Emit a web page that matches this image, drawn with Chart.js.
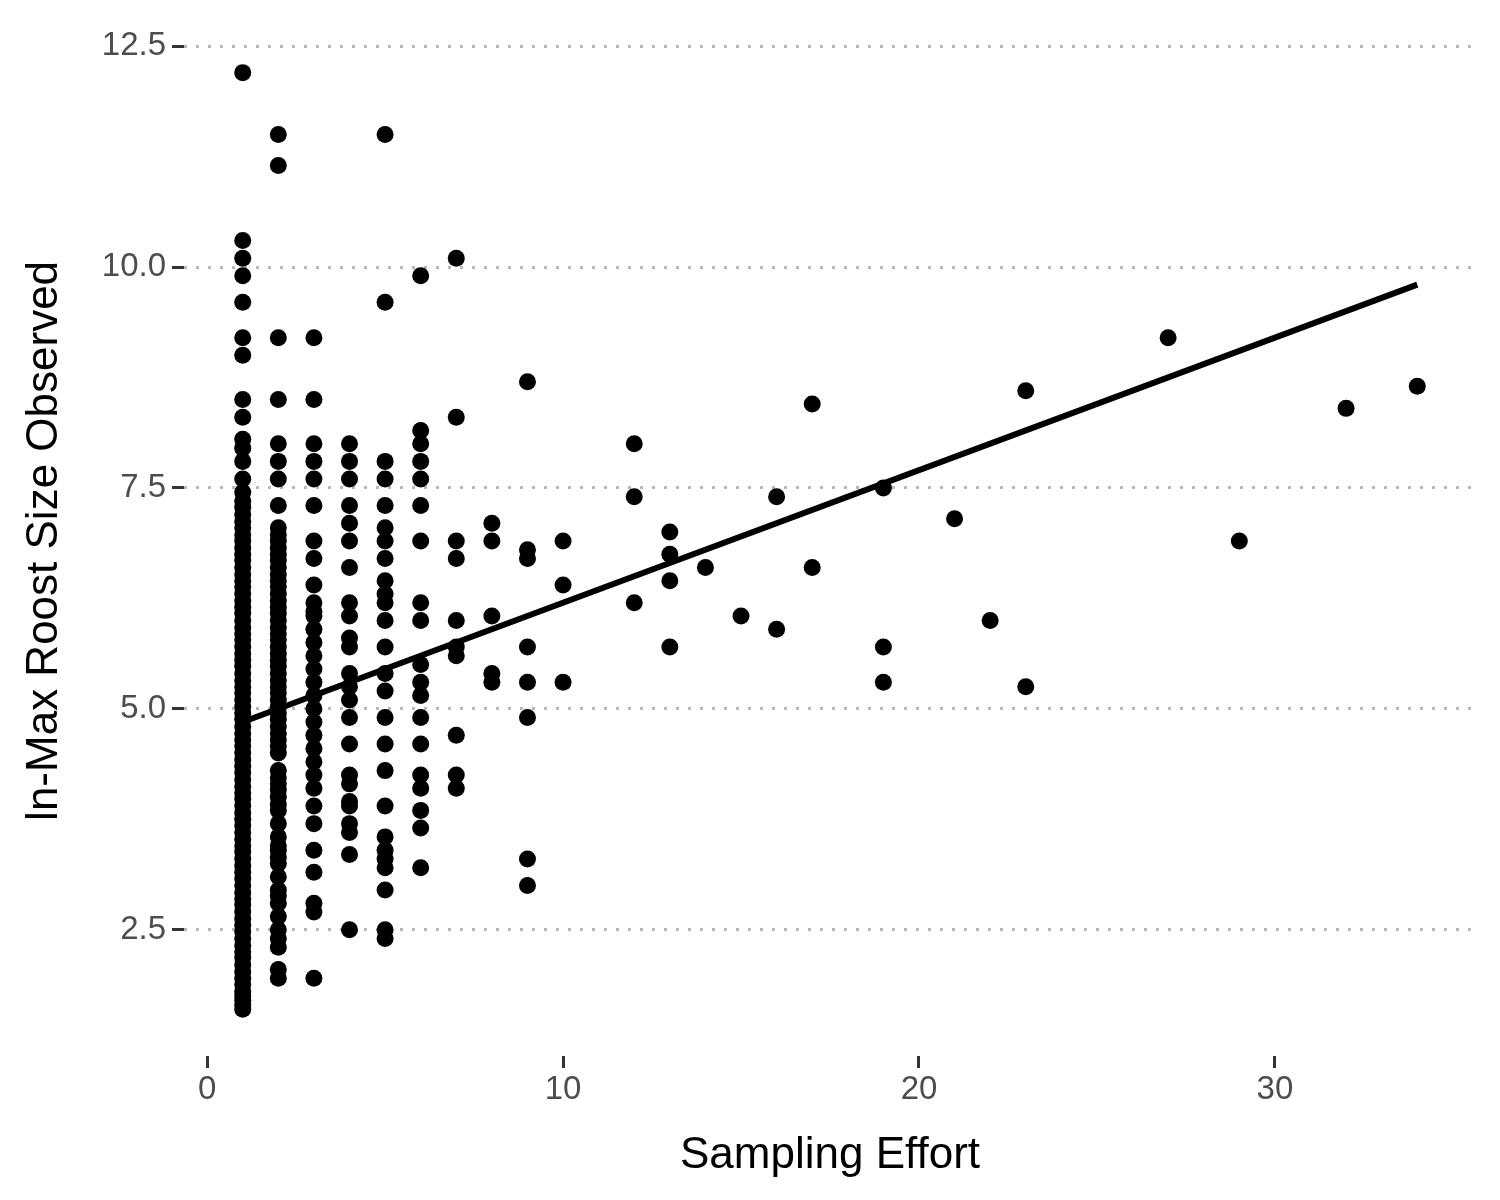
<!DOCTYPE html>
<html>
<head>
  <script src="https://cdn.jsdelivr.net/npm/chart.js@4/dist/chart.umd.min.js"></script>
  <style>
    body { margin: 0; padding: 0; background: #fff; overflow: hidden; }
  </style>
</head>
<body>
  <canvas id="c" width="1500" height="1200"></canvas>
  <script>
    // Sampling effort levels and the ln-max roost sizes observed at each
    const effortLevels = [1, 2, 3, 4, 5, 6, 7, 8, 9, 10, 12, 13, 14, 15, 16, 17, 19, 21, 22, 23, 27, 29, 32, 34];
    const roostSizes = [
      [12.2, 10.3, 10.1, 9.9, 9.6, 9.2, 9.0, 8.5, 8.3, 8.05, 7.95, 7.8, 7.6, 7.45, 7.35, 7.28, 7.2, 7.12, 7.05, 6.97, 6.9, 6.82, 6.75, 6.68, 6.6, 6.52, 6.45, 6.38, 6.3, 6.22, 6.15, 6.08, 6.0, 5.92, 5.85, 5.78, 5.7, 5.62, 5.55, 5.48, 5.4, 5.32, 5.25, 5.18, 5.1, 5.02, 4.95, 4.88, 4.8, 4.72, 4.65, 4.58, 4.5, 4.42, 4.35, 4.28, 4.2, 4.12, 4.05, 3.98, 3.9, 3.82, 3.75, 3.68, 3.6, 3.52, 3.45, 3.38, 3.3, 3.22, 3.15, 3.08, 3.0, 2.92, 2.85, 2.78, 2.7, 2.62, 2.55, 2.48, 2.4, 2.32, 2.25, 2.18, 2.1, 2.02, 1.95, 1.88, 1.8, 1.75, 1.7, 1.65, 1.6],
      [11.5, 11.15, 9.2, 8.5, 8.0, 7.8, 7.6, 7.3, 7.05, 6.97, 6.9, 6.82, 6.75, 6.68, 6.6, 6.52, 6.45, 6.38, 6.3, 6.22, 6.15, 6.08, 6.0, 5.92, 5.85, 5.78, 5.7, 5.62, 5.55, 5.48, 5.4, 5.32, 5.25, 5.18, 5.1, 5.02, 4.95, 4.88, 4.8, 4.72, 4.65, 4.58, 4.5, 4.3, 4.22, 4.15, 4.08, 4.0, 3.92, 3.85, 3.7, 3.55, 3.45, 3.4, 3.32, 3.25, 3.1, 2.95, 2.88, 2.8, 2.65, 2.5, 2.4, 2.3, 2.05, 1.95],
      [9.2, 8.5, 8.0, 7.8, 7.6, 7.3, 6.9, 6.7, 6.4, 6.2, 6.1, 6.05, 5.9, 5.75, 5.6, 5.45, 5.3, 5.15, 5.0, 4.85, 4.7, 4.55, 4.4, 4.25, 4.1, 3.9, 3.7, 3.4, 3.15, 2.8, 2.7, 1.95],
      [8.0, 7.8, 7.6, 7.3, 7.1, 6.9, 6.6, 6.2, 6.05, 5.8, 5.7, 5.4, 5.25, 5.1, 4.9, 4.6, 4.25, 4.15, 3.95, 3.9, 3.7, 3.6, 3.35, 2.5],
      [11.5, 9.6, 7.8, 7.6, 7.3, 7.05, 6.9, 6.7, 6.45, 6.3, 6.2, 6.0, 5.7, 5.4, 5.2, 4.9, 4.6, 4.3, 3.9, 3.55, 3.4, 3.3, 3.2, 2.95, 2.5, 2.4],
      [9.9, 8.15, 8.0, 7.8, 7.6, 7.3, 6.9, 6.2, 6.0, 5.5, 5.3, 5.15, 4.9, 4.6, 4.25, 4.1, 3.85, 3.65, 3.2],
      [10.1, 8.3, 6.9, 6.7, 6.0, 5.7, 5.6, 4.7, 4.25, 4.1],
      [7.1, 6.9, 6.05, 5.4, 5.3],
      [8.7, 6.8, 6.7, 5.7, 5.3, 4.9, 3.3, 3.0],
      [6.9, 6.4, 5.3],
      [8.0, 7.4, 6.2],
      [7.0, 6.75, 6.45, 5.7],
      [6.6],
      [6.05],
      [7.4, 5.9],
      [8.45, 6.6],
      [7.5, 5.7, 5.3],
      [7.15],
      [6.0],
      [8.6, 5.25],
      [9.2],
      [6.9],
      [8.4],
      [8.65]
    ];
    const fitX = [1, 34];
    const fitY = [4.85, 9.8];
    const yTicks = [2.5, 5.0, 7.5, 10.0, 12.5];
    const xTicks = [0, 10, 20, 30];

    const points = [];
    effortLevels.forEach((x, i) => roostSizes[i].forEach(y => points.push({ x: x, y: y })));

    Chart.defaults.font.family = 'Liberation Sans, Arial, sans-serif';

    new Chart(document.getElementById('c'), {
      type: 'scatter',
      data: {
        datasets: [
          {
            data: points,
            backgroundColor: '#000',
            borderWidth: 0,
            pointRadius: 8.5
          },
          {
            type: 'line',
            data: fitX.map((x, i) => ({ x: x, y: fitY[i] })),
            borderColor: '#000',
            borderWidth: 6,
            pointRadius: 0,
            fill: false
          }
        ]
      },
      options: {
        responsive: false,
        animation: false,
        devicePixelRatio: 1,
        layout: { padding: { top: 25, right: 24, left: 14, bottom: 0 } },
        plugins: { legend: { display: false }, tooltip: { enabled: false } },
        scales: {
          x: {
            type: 'linear',
            min: -0.65,
            max: 35.65,
            afterBuildTicks: s => { s.ticks = xTicks.map(v => ({ value: v })); },
            afterFit: s => { s.height = 144; },
            ticks: { color: '#4d4d4d', font: { size: 33 }, padding: 2, callback: v => v },
            grid: { drawOnChartArea: false, tickColor: '#333', tickWidth: 3, tickLength: 12 },
            border: { display: false },
            title: { display: true, text: 'Sampling Effort', color: '#000', font: { size: 44 }, padding: { top: 0, bottom: 18 } }
          },
          y: {
            type: 'linear',
            min: 1.07,
            max: 12.73,
            afterBuildTicks: s => { s.ticks = yTicks.map(v => ({ value: v })); },
            afterFit: s => { s.width = 170; },
            ticks: { color: '#4d4d4d', font: { size: 33 }, padding: 6, callback: v => v.toFixed(1) },
            grid: { color: '#b8b8b8', lineWidth: 3, tickColor: '#333', tickWidth: 3, tickLength: 12, tickBorderDash: [] },
            border: { display: false, dash: [3, 9] },
            title: { display: true, text: 'ln-Max Roost Size Observed', color: '#000', font: { size: 44 }, padding: { bottom: 8 } }
          }
        }
      }
    });
  </script>
</body>
</html>
